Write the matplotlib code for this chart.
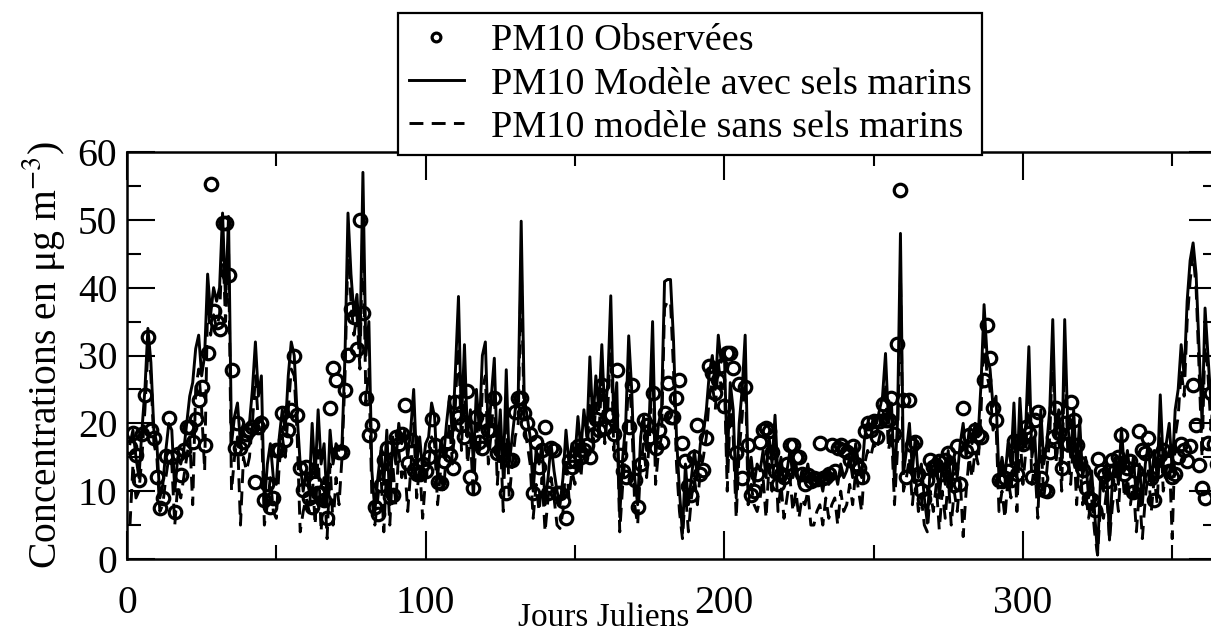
import matplotlib
matplotlib.use("Agg")
import matplotlib.pyplot as plt
from matplotlib.ticker import MultipleLocator
import numpy as np

days = list(range(1, 366))

model_with_salt = [
    17, 19, 15, 12, 19, 25, 34, 29, 19, 17,
    9, 11, 16, 20, 19, 10, 15, 14, 16, 20,
    24, 26, 31, 33, 27, 30, 42, 36, 40, 38,
    40, 51, 38, 50.5, 17, 21, 23, 17, 20, 19,
    20, 25, 32, 24, 27, 8, 14, 17, 12, 11,
    18, 22, 19, 27, 32, 30, 21, 14, 10, 13,
    10, 20, 12, 22, 14, 17, 8, 19, 14, 17,
    16, 17, 30, 51, 42, 36, 39, 31, 57, 30,
    35, 13, 7, 12, 16, 11, 19, 8, 18, 14,
    20, 17, 19, 15, 19, 25, 14, 18, 13, 17,
    18, 23, 21, 12, 17, 15, 20, 24, 18, 28,
    38.7, 20, 31.6, 18, 22, 14, 25, 19, 30, 32,
    18, 24, 29.6, 15, 22, 12, 27.9, 14, 18, 22,
    24, 49.8, 24, 21, 18, 10, 16, 14, 17, 8,
    12, 17, 13, 10, 8, 12, 19, 14, 17, 15,
    21, 16, 22, 18, 29.8, 20, 27, 22, 31.6, 21,
    26, 38.8, 20, 26, 6.2, 15, 20, 32.9, 25, 12,
    8, 18, 21, 16, 22, 35, 15, 20, 22, 40.9,
    41.2, 41.2, 32.3, 18, 10, 3.8, 14, 8, 12, 16,
    12, 17, 18.5, 22, 27.4, 30, 25, 33, 29, 31,
    14, 26, 22, 9, 20, 25, 33, 12, 15, 11,
    14, 13, 16, 12, 18, 14, 21.2, 12, 15, 11,
    13, 16, 12, 14, 11, 13, 12, 14, 11, 12,
    11, 12, 10, 13, 11, 12, 13, 11, 14, 12,
    13, 15, 12, 17, 14, 12, 18, 20, 19, 21,
    20, 22, 24, 30.3, 20, 23, 11.2, 20, 48, 12.6,
    16, 20, 13, 18, 12, 14, 9, 5.3, 14, 12,
    15, 9, 14, 11, 16, 10, 15, 12, 17, 20,
    15, 19, 17, 20, 18, 26, 37.5, 30, 28, 22.5,
    24, 11.7, 15, 12, 17, 14, 23, 12, 23.7, 16,
    20, 31.3, 15, 18, 9.7, 22, 14, 17, 22, 35.3,
    18, 22, 14, 35.3, 20, 15, 22, 13, 20.5, 12,
    15, 9, 13, 7, 0.6, 12, 10, 14, 2.8, 12,
    15, 11, 19.3, 13, 16, 12, 15, 9, 14, 8,
    14, 17, 11, 16, 12, 24.2, 14, 17, 20, 13,
    22, 25, 31.6, 27, 38, 44, 46.6, 42, 31, 20,
    37, 29.8, 23, 30, 26,
]

model_without_salt = [
    5, 14, 9, 10, 15, 22, 31, 27, 17, 15,
    7, 8, 12, 15, 14, 5, 11, 9, 12, 15,
    18, 8, 25, 28, 22, 13, 38, 33, 36, 34,
    36, 47, 35, 46, 10, 15, 18, 5, 15, 13,
    15, 20, 27, 20, 21, 5, 8, 12, 7, 6,
    14, 18, 15, 22, 28, 27, 18, 4, 7, 9,
    7, 13, 5, 16, 4, 12, 3, 14, 5, 12,
    8, 15, 27, 46, 38, 33, 36, 28, 50, 23,
    28, 9, 5, 9, 13, 4, 14, 5, 14, 8,
    16, 12, 14, 7, 13, 20, 9, 14, 6, 12,
    14, 18, 17, 8, 13, 10, 16, 20, 14, 23,
    33, 16, 27, 14, 18, 9, 20, 15, 25, 27,
    14, 19, 25, 11, 18, 7, 23, 9, 14, 18,
    20, 44, 20, 17, 14, 6, 11, 7, 12, 4,
    9, 12, 9, 5, 4.5, 7, 15, 9, 13, 11,
    17, 12, 18, 14, 25, 16, 23, 18, 27, 17,
    22, 34, 16, 22, 4, 11, 16, 28, 21, 8,
    5, 14, 17, 12, 18, 30, 11, 16, 18, 37,
    38, 38, 28, 14, 7, 3, 10, 4, 9, 12,
    8, 13, 15, 18, 24, 26, 22, 29, 25, 27,
    10, 22, 18, 6, 16, 21, 29, 8, 11, 8,
    7, 9, 12, 6, 14, 10, 17, 7, 11, 6,
    9, 12, 7, 10, 6, 9, 8, 10, 5, 5,
    7, 8, 5, 9, 6, 8, 9, 5, 10, 7,
    8, 11, 8, 13, 10, 7, 14, 16, 15, 17,
    16, 18, 20, 26, 16, 19, 8, 16, 42, 10,
    12, 15, 8, 13, 7, 9, 5, 4, 10, 7,
    11, 4.3, 10, 6, 12, 5, 10, 7, 12, 3.3,
    10, 15, 12, 16, 14, 22, 34, 27, 25, 19,
    20, 7, 10, 6, 12, 9, 19, 7, 19, 11,
    16, 27, 11, 14, 6, 18, 9, 13, 18, 31,
    14, 18, 10, 31, 16, 11, 18, 8, 16, 8,
    10, 6, 9, 4, 0.6, 8, 6, 10, 2.8, 8,
    11, 7, 15, 9, 12, 8, 11, 4, 10, 3,
    9, 13, 7, 12, 8, 20, 10, 13, 16, 3,
    18, 21, 28, 24, 35, 41, 45, 40, 28, 15,
    33, 27, 19, 26, 22,
]

observed = [
    16.5, 18.6, 15.4, 11.6, 18.5, 24.2, 32.8, 19, 17.8, 12.1,
    7.5, 9, 15.2, 20.8, 15, 7, 15.5, 12.4, 16, 19.4,
    19.4, 17.3, 20.7, 23.4, 25.4, 16.8, 30.4, 55.3, 36.5, 35,
    33.9, 49.6, 49.6, 41.9, 27.9, 16.3, 20, 16.3, 17.3, 18.5,
    19, 19.5, 11.4, 19.5, 20.1, 8.7, 11, 7.7, 9, 16,
    16, 21.5, 17.6, 19, 22, 29.9, 21.2, 13.4, 10.2, 13.6,
    9, 7.7, 11.2, 9.7, 9.7, 8.7, 6, 22.2, 28.1, 26.4,
    15.8, 15.8, 24.9, 30.1, 36.8, 35.7, 31, 50, 36.2, 23.7,
    18.3, 19.8, 7.7, 6.7, 10.9, 14.6, 16.3, 9.2, 9.5, 18,
    17, 18.5, 22.7, 14.1, 17.5, 13.1, 12.5, 12.6, 14, 12.9,
    15, 20.7, 16.8, 11.4, 11.2, 14.4, 17.3, 15.3, 13.4, 23.2,
    21, 19.8, 18, 24.7, 12.1, 10.4, 21, 17.3, 16.3, 20.3,
    19, 19, 23.7, 15.6, 16, 15.6, 9.8, 14.6, 14.6, 21.7,
    23.7, 23.7, 21.5, 20, 18.5, 9.7, 17.3, 13.6, 16, 19.5,
    9.7, 16.3, 16.1, 9.7, 9.7, 8.5, 6, 14.4, 13.5, 14.4,
    16.6, 15, 16, 16.8, 15.1, 18.3, 20.7, 19, 25.7, 19.3,
    21.2, 21.2, 18.5, 27.9, 15.3, 13, 12.1, 19.5, 25.7, 11.6,
    7.7, 14, 20.5, 19.8, 18, 24.4, 16.3, 19, 17.3, 21.5,
    25.9, 21, 21, 23.7, 26.4, 17.1, 14.4, 10.7, 9.4, 15.1,
    19.8, 12.6, 13.1, 17.8, 28.4, 27.4, 24.4, 26.4, 28.4, 22.5,
    30.4, 30.4, 28.1, 15.6, 25.8, 11.9, 25.3, 16.8, 9.4, 10,
    12.6, 17.3, 19, 19.3, 18.8, 15.8, 13, 11, 12.5, 12.1,
    14, 16.8, 16.8, 15, 15.1, 12.5, 11, 12.4, 11.5, 12,
    11.8, 17.1, 12, 12.1, 12.5, 16.8, 12.9, 16.3, 16.8, 16.1,
    15.8, 14.6, 16.6, 14, 13.4, 12.1, 18.8, 20, 19, 20.3,
    18, 20.3, 22.9, 20.5, 20.5, 23.7, 18.5, 31.7, 54.4, 23.4,
    12.1, 23.4, 16.8, 17.3, 12.6, 10.2, 8.9, 11.7, 14.6, 13.5,
    13.9, 14.4, 12.5, 14.6, 15.6, 13.4, 10.9, 16.7, 11, 22.3,
    15.9, 18.3, 16.5, 19, 18.3, 18, 26.4, 34.5, 29.6, 22.2,
    20.5, 11.7, 11.5, 12, 12.9, 11.7, 17.4, 12.5, 17.4, 17,
    19.5, 18.6, 12.1, 20.5, 21.7, 12, 10.2, 10, 15.8, 18,
    22.2, 18.6, 13.4, 20, 17, 23.1, 20.5, 16.8, 14.1, 13.1,
    10.4, 9, 8.7, 7.2, 14.8, 12.9, 12.4, 11.5, 13, 14.6,
    13.1, 15, 18.3, 12.6, 13.4, 14.5, 9.9, 13, 18.9, 16.1,
    15.6, 17.8, 12, 8.7, 13, 15.3, 16, 14.6, 13, 12.1,
    12.6, 15, 17, 16, 14.4, 16.6, 25.7, 19.8, 13.9, 10.4,
    9, 17.1, 24.4, 17, 14,
]

labels = ["PM10 Observées", "PM10 Modèle avec sels marins", "PM10 modèle sans sels marins"]
xlabel = "Jours Juliens"
ylabel = "Concentrations en μg m$^{-3}$)"
xticks = [0, 100, 200, 300]
yticks = [0, 10, 20, 30, 40, 50, 60]

plt.rcParams['font.family'] = ['Liberation Serif', 'DejaVu Serif']
plt.rcParams['mathtext.fontset'] = 'stix'
plt.rcParams['lines.scale_dashes'] = False

W, H = 1211, 640
fig = plt.figure(figsize=(W / 100, H / 100), dpi=100)
ax_l, ax_r, ax_t, ax_b = 127, 1217, 152, 559
ax = fig.add_axes([ax_l / W, 1 - ax_b / H, (ax_r - ax_l) / W, (ax_b - ax_t) / H])

lw = 2.1
l_dash, = ax.plot(days, model_without_salt, color='black', lw=lw, dashes=(10, 6), label=labels[2])
l_solid, = ax.plot(days, model_with_salt, color='black', lw=lw, label=labels[1])
l_obs, = ax.plot(days, observed, linestyle='none', marker='o', ms=9, mfc='none',
                 mec='black', mew=2.3, label=labels[0])

ax.set_xlim(0, 365)
ax.set_ylim(0, 60)
ax.set_xticks(xticks)
ax.set_yticks(yticks)
ax.xaxis.set_minor_locator(MultipleLocator(50))
ax.yaxis.set_minor_locator(MultipleLocator(5))
ax.tick_params(which='both', direction='in', top=True, right=True, width=1.5, colors='black')
ax.tick_params(which='major', length=20, labelsize=28.5)
ax.tick_params(axis='x', which='major', pad=19)
ax.tick_params(axis='y', which='major', pad=7)
ax.tick_params(which='minor', length=10)
for sp in ax.spines.values():
    sp.set_linewidth(1.8)

ax.set_xlabel(xlabel, fontsize=24, va='top', ha='center')
ax.xaxis.set_label_coords((604 - ax_l) / (ax_r - ax_l), -(603 - ax_b) / (ax_b - ax_t))
ax.set_ylabel(ylabel, fontsize=28.5)
ax.yaxis.set_label_coords(-(127 - 67) / (ax_r - ax_l), 0.5)

leg = fig.legend([l_obs, l_solid, l_dash], labels, loc='upper left',
                 bbox_to_anchor=(398 / W, 1 - 13 / H), fontsize=27.5, frameon=True,
                 fancybox=False, edgecolor='black', framealpha=1, borderpad=0.28,
                 labelspacing=0.22, handlelength=1.45, handletextpad=0.7,
                 borderaxespad=0, markerscale=0.7)
leg.get_frame().set_linewidth(1.6)

fig.savefig('out.png', dpi=100)
